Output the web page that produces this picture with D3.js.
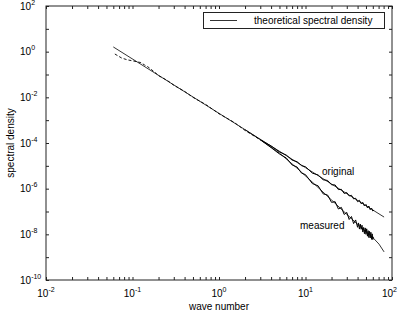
<!DOCTYPE html>
<html><head><meta charset="utf-8">
<script src="https://cdn.jsdelivr.net/npm/d3@7"></script>
<style>
body{margin:0;background:#fff}
svg{display:block}
text{font-family:"Liberation Sans",Arial,sans-serif;fill:#000}
</style>
</head><body>
<svg id="c" width="398" height="322"></svg>
<script>
// ---- data ----
const xTickExps = [-2, -1, 0, 1, 2];
const yTickExps = [2, 0, -2, -4, -6, -8, -10];
const yTickAllExps = [2, 1, 0, -1, -2, -3, -4, -5, -6, -7, -8, -9, -10];

// theoretical spectral density (original)
const theoK = [0.06, 1, 10, 81];
const theoOriginal = [1.61, 1.99e-3, 8.31e-6, 5.7e-8];
// theoretical spectral density (measured)
const theoMeasK = [2, 3.16, 5.01, 7.94, 12.6, 20, 31.6, 44.7, 60, 70.8, 81];
const theoMeasured = [3.83e-4, 1.23e-4, 3.57e-5, 8.07e-6, 1.63e-6, 3.20e-7, 6.30e-8, 1.87e-8, 7.24e-9, 3.72e-9, 1.7e-9];

// data at low wave numbers (shared by both data sets)
const lowK = [0.0625, 0.075, 0.0875, 0.1, 0.1125, 0.125, 0.1375, 0.15, 0.1625, 0.175, 0.1875, 0.2, 0.25, 0.3, 0.4, 0.5, 0.7, 1.0, 1.5, 2, 3];
const lowS = [0.79, 0.525, 0.437, 0.398, 0.363, 0.331, 0.263, 0.219, 0.174, 0.138, 0.112, 0.0891, 0.0562, 0.0339, 0.0182, 0.0100, 4.90e-3, 1.91e-3, 7.94e-4, 3.55e-4, 1.38e-4];

// original data, high wave numbers
const origK = [3, 4, 5, 6, 7, 8, 9, 10, 12, 14, 16, 18, 20, 22, 24, 26, 28, 30, 32, 34, 36, 38, 40, 42, 44, 46, 48, 50, 52, 54, 56, 58, 60, 62];
const origS = [1.38e-4, 7.41e-5, 4.07e-5, 2.95e-5, 1.78e-5, 1.51e-5, 1.02e-5, 9.12e-6, 4.79e-6, 3.98e-6, 2.45e-6, 2.29e-6, 1.48e-6, 1.45e-6, 9.12e-7, 9.33e-7, 6.17e-7, 6.76e-7, 4.79e-7, 5.13e-7, 3.55e-7, 3.80e-7, 2.69e-7, 3.09e-7, 2.19e-7, 2.51e-7, 1.74e-7, 2.04e-7, 1.45e-7, 1.74e-7, 1.20e-7, 1.41e-7, 1.05e-7, 1.15e-7];

// measured data, high wave numbers
const measK = [3, 4, 5, 6, 7, 8, 9, 10, 12, 14, 16, 18, 20, 22, 24, 26, 28, 30, 32, 34, 36, 38, 40, 41, 42, 43, 44, 45, 46, 47, 48, 49, 50, 51, 52, 53, 54, 55, 56, 57, 58, 59, 60, 61];
const measS = [1.38e-4, 6.31e-5, 3.31e-5, 2.21e-5, 1.09e-5, 8.85e-6, 4.79e-6, 4.12e-6, 1.67e-6, 1.33e-6, 5.94e-7, 5.25e-7, 2.51e-7, 2.69e-7, 1.29e-7, 1.51e-7, 7.41e-8, 9.12e-8, 4.47e-8, 6.03e-8, 2.95e-8, 4.27e-8, 2.04e-8, 3.16e-8, 1.70e-8, 2.82e-8, 1.66e-8, 2.51e-8, 1.26e-8, 2.00e-8, 1.07e-8, 1.91e-8, 1.00e-8, 1.74e-8, 8.32e-9, 1.45e-8, 7.24e-9, 1.35e-8, 6.92e-9, 1.23e-8, 6.03e-9, 1.05e-8, 5.89e-9, 7.76e-9];

// ---- drawing ----
const svg = d3.select("#c");
const L = 46, R = 392, T = 6, B = 280;
const x = d3.scaleLog().domain([1e-2, 1e2]).range([L, R]);
const y = d3.scaleLog().domain([1e-10, 1e2]).range([B, T]);

const xMinor = [];
for (let e = -2; e < 2; e++) for (let m = 1; m <= 9; m++) xMinor.push(m * Math.pow(10, e));
xMinor.push(100);
const yTicks = yTickAllExps.map(e => Math.pow(10, e));

const axisColor = "#222";
function styleAxis(g) {
  g.select(".domain").remove();
  g.selectAll("line").attr("stroke", axisColor).attr("stroke-width", 1);
  g.selectAll("text").remove();
}
svg.append("g").attr("transform", `translate(0,${B})`)
  .call(d3.axisBottom(x).tickValues(xMinor).tickSize(-3).tickFormat("")).call(styleAxis);
svg.append("g").attr("transform", `translate(0,${T})`)
  .call(d3.axisTop(x).tickValues(xMinor).tickSize(-3).tickFormat("")).call(styleAxis);
svg.append("g").attr("transform", `translate(${L},0)`)
  .call(d3.axisLeft(y).tickValues(yTicks).tickSize(-3).tickFormat("")).call(styleAxis);
svg.append("g").attr("transform", `translate(${R},0)`)
  .call(d3.axisRight(y).tickValues(yTicks).tickSize(-3).tickFormat("")).call(styleAxis);

svg.append("rect").attr("x", L).attr("y", T).attr("width", R - L).attr("height", B - T)
  .attr("fill", "none").attr("stroke", axisColor).attr("stroke-width", 1);

// tick labels
xTickExps.forEach((e, i) => {
  const last = i === xTickExps.length - 1;
  const t = svg.append("text").attr("x", last ? 397 : x(Math.pow(10, e))).attr("y", 297)
    .attr("text-anchor", last ? "end" : "middle").attr("font-size", 10);
  t.append("tspan").text("10");
  t.append("tspan").attr("dy", -5).attr("font-size", 7).text(e);
});
yTickExps.forEach(e => {
  const t = svg.append("text").attr("x", 20).attr("y", y(Math.pow(10, e)) + 3.5)
    .attr("font-size", 10);
  t.append("tspan").text("10");
  t.append("tspan").attr("dy", -5).attr("font-size", 7).text(e);
});

// axis titles
svg.append("text").attr("x", (L + R) / 2).attr("y", 310).attr("text-anchor", "middle")
  .attr("font-size", 10).text("wave number");
svg.append("text").attr("transform", `translate(14,${(T + B) / 2}) rotate(-90)`)
  .attr("text-anchor", "middle").attr("font-size", 10).text("spectral density");

// lines
const line = d3.line().x(d => x(d[0])).y(d => y(d[1]));
const zip = (a, b) => a.map((v, i) => [v, b[i]]);
const plot = svg.append("g");

plot.append("path").datum(zip(lowK, lowS))
  .attr("d", line).attr("fill", "none").attr("stroke", "#000").attr("stroke-width", 0.9)
  .attr("stroke-dasharray", "3,2");
plot.append("path").datum(zip(measK, measS))
  .attr("d", line).attr("fill", "none").attr("stroke", "#000").attr("stroke-width", 1);
plot.append("path").datum(zip(origK, origS))
  .attr("d", line).attr("fill", "none").attr("stroke", "#000").attr("stroke-width", 1);
plot.append("path").datum(zip(theoK, theoOriginal))
  .attr("d", line).attr("fill", "none").attr("stroke", "#000").attr("stroke-width", 0.8);
plot.append("path").datum(zip(theoMeasK, theoMeasured))
  .attr("d", line).attr("fill", "none").attr("stroke", "#000").attr("stroke-width", 0.8);

// annotations
svg.append("text").attr("x", 322).attr("y", 175).attr("font-size", 10).text("original");
svg.append("text").attr("x", 300).attr("y", 229).attr("font-size", 10).text("measured");

// legend
svg.append("rect").attr("x", 203.5).attr("y", 12.5).attr("width", 181).attr("height", 16)
  .attr("fill", "#fff").attr("stroke", axisColor).attr("stroke-width", 1);
svg.append("line").attr("x1", 210).attr("x2", 237).attr("y1", 20.5).attr("y2", 20.5)
  .attr("stroke", "#000").attr("stroke-width", 0.8);
svg.append("text").attr("x", 254).attr("y", 24).attr("font-size", 10).text("theoretical spectral density");
</script>
</body></html>
